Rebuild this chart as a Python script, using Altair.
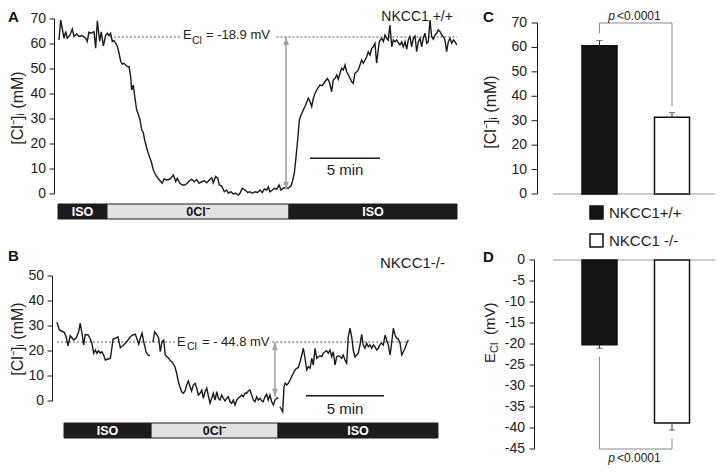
import altair as alt
import pandas as pd

# ---------------- data ----------------
# Panel A: NKCC1 +/+ trace (time in min, [Cl-]i in mM)
A_time = [0.07,0.19,0.43,0.55,0.66,0.86,1.02,1.14,1.34,1.50,1.74,1.98,2.09,2.21,2.38,2.57,2.69,2.81,2.98,3.09,
          3.24,3.41,3.52,3.64,3.76,3.88,4.00,4.12,4.24,4.36,4.48,4.59,4.71,4.84,5.00,5.07,5.19,5.26,5.38,5.48,
          5.62,5.71,5.86,5.98,6.09,6.19,6.34,6.45,6.57,6.66,6.81,6.98,7.14,7.34,7.45,7.57,7.76,7.93,8.09,8.24,
          8.41,8.52,8.71,8.88,9.05,9.24,
          9.31,9.55,9.74,9.91,10.07,10.26,10.45,10.62,10.79,10.98,11.09,11.26,11.41,11.52,11.69,11.88,12.05,12.16,12.36,12.52,
          12.69,12.88,13.00,13.16,13.36,13.55,13.71,13.88,14.07,14.26,14.43,14.59,14.74,14.91,15.02,15.14,15.31,15.45,15.62,15.79,
          15.93,16.09,16.26,16.45,16.64,16.74,16.88,16.98,17.12,17.24,17.36,17.52,17.69,17.88,18.00,18.12,18.24,18.36,18.55,18.71,
          18.88,
          19.07,19.24,19.38,19.55,19.66,19.79,19.91,20.02,20.14,20.26,20.38,20.50,20.62,20.81,20.98,21.09,21.21,21.34,21.45,21.57,
          21.69,21.81,21.93,22.05,22.16,22.29,22.41,22.52,22.64,22.76,22.95,23.12,23.24,23.36,23.48,23.59,23.71,23.84,23.95,24.07,
          24.19,24.31,24.43,24.55,24.66,24.79,24.91,25.02,25.14,25.26,25.38,25.50,25.62,25.74,25.86,25.98,26.09,26.21,26.34,26.45,
          26.57,26.69,26.81,26.93,27.05,27.16,27.29,27.41,27.52,27.64,27.76,27.88,28.00,28.12,28.24,28.36,28.48]
A_cl = [61.6,69.6,62.3,65.0,62.3,63.6,66.0,63.0,64.0,63.0,63.3,62.3,61.0,64.7,64.3,64.9,58.3,69.3,61.0,64.9,
        59.2,63.6,64.3,63.3,64.3,61.0,61.3,60.3,59.0,56.3,53.0,52.0,52.3,51.6,50.9,51.0,47.0,41.6,43.6,39.0,
        33.6,32.3,29.6,25.6,24.6,21.6,18.3,16.3,14.3,13.0,9.6,7.6,6.3,5.0,4.3,6.0,5.6,5.8,6.5,7.6,
        5.0,6.3,4.3,3.6,3.6,4.3,
        4.9,5.9,4.9,5.8,4.3,4.9,5.3,4.5,5.5,6.5,4.5,7.0,6.3,3.6,3.2,0.9,1.6,0.4,0.9,0.0,
        0.3,-0.4,0.3,2.3,1.6,0.6,0.9,0.3,0.9,0.6,1.6,0.6,2.0,1.6,2.9,0.9,1.6,2.3,1.9,3.6,
        1.6,2.3,2.6,2.3,3.2,4.9,8.3,13.6,21.6,29.6,31.6,33.6,35.6,38.3,37.0,35.0,38.3,40.3,42.3,43.6,
        43.3,
        44.9,46.2,44.9,40.9,45.6,46.3,47.6,45.9,48.3,50.3,49.6,51.6,48.9,46.9,44.9,44.3,48.3,48.9,49.6,51.6,
        53.6,52.3,53.6,54.9,56.9,55.6,58.3,58.9,60.3,52.3,61.0,62.3,61.0,63.6,62.3,61.6,67.6,58.9,61.6,60.9,
        61.6,60.5,59.6,60.9,58.9,60.9,57.9,61.6,62.9,58.9,62.3,63.2,56.9,60.9,62.3,58.9,62.3,64.3,60.3,60.9,
        69.6,62.9,61.9,63.6,64.3,65.6,64.9,63.6,62.9,61.6,56.9,60.9,62.3,60.3,61.6,60.9,59.6]

# Panel B: NKCC1 -/- trace, three recorded segments
B_time_1 = [0.00,0.15,0.32,0.47,0.58,0.71,0.85,0.96,1.07,1.22,1.39,1.49,1.60,1.71,1.81,1.99,2.13,2.24,2.35,2.46,
            2.56,2.67,2.78,2.88,2.99,3.10,3.27,3.42,3.53,3.59,3.74,3.91,4.06,4.21,4.38,4.55,4.70,4.85,5.02,5.13,
            5.24,5.34,5.45,5.56,5.71,5.83,5.94]
B_cl_1 = [31.5,28.4,27.9,27.5,25.7,22.1,26.1,25.3,24.4,25.1,27.7,31.1,27.1,22.4,26.6,26.4,24.9,23.1,19.1,20.4,
          19.1,20.1,19.1,19.7,18.4,16.4,16.8,17.0,21.7,24.8,25.1,25.7,21.3,22.1,23.1,24.4,25.7,26.4,26.7,24.8,
          22.7,25.1,27.1,23.7,19.7,18.4,18.1]
B_time_2 = [6.15,6.26,6.41,6.52,6.62,6.73,6.84,6.94,7.05,7.16,7.26,7.37,7.56,7.67,7.78,7.88,7.99,8.10,8.21,8.31,
            8.42,8.53,8.63,8.74,8.85,8.96,9.06,9.17,9.28,9.38,9.49,9.60,9.70,9.81,9.92,10.02,10.13,10.24,10.34,10.45,
            10.56,10.66,10.77,10.88,10.98,11.09,11.20,11.30,11.41,11.52,11.62,11.73,11.84,11.94,12.05,12.16,12.26,12.37,12.48,12.58,
            12.69,12.80,12.90,13.01,13.12,13.22,13.33,13.44,13.54,13.65,13.76,13.87,13.97,14.08,14.19]
B_cl_2 = [23.5,27.7,26.4,25.1,19.7,23.7,24.4,18.4,17.7,17.1,16.1,15.7,13.7,11.1,7.7,5.7,3.7,3.1,4.0,6.4,
          8.0,5.7,4.0,6.4,7.1,5.1,2.4,3.1,4.4,1.1,3.7,5.1,2.1,-0.9,1.1,3.1,0.4,3.7,1.1,0.4,
          2.4,1.1,0.0,1.1,1.7,-0.3,-0.9,0.4,-1.6,0.4,1.1,1.7,2.4,1.7,3.1,3.1,4.0,4.4,2.4,0.4,
          -0.3,1.7,0.4,1.1,0.1,-0.3,1.7,2.7,0.4,2.4,-0.3,-1.6,0.4,1.1,1.3]
B_time_3 = [14.29,14.47,14.55,14.62,14.72,14.83,14.94,15.04,15.15,15.26,15.37,15.47,15.58,15.69,15.79,15.90,16.01,16.11,16.22,16.33,
            16.43,16.54,16.65,16.75,16.86,16.97,17.07,17.18,17.29,17.39,17.50,17.61,17.71,17.82,17.93,18.03,18.14,18.25,18.35,18.46,
            18.57,18.67,18.78,18.89,18.99,19.10,19.21,19.31,19.42,19.53,19.63,19.74,19.85,19.96,20.06,20.17,20.28,20.38,20.49,20.60,
            20.71,20.81,20.92,21.03,21.13,21.24,21.35,21.45,21.56,21.67,21.78,21.88,21.99,22.10,22.20,22.31,22.42,22.52]
B_cl_3 = [-2.3,-4.3,5.7,7.1,6.4,7.1,8.4,9.7,11.1,12.4,13.1,13.4,15.7,18.4,21.1,17.1,12.4,13.7,13.1,17.1,
          14.4,21.1,17.1,17.7,18.1,17.7,19.1,19.7,20.1,19.1,20.4,17.7,19.7,14.4,17.7,18.1,17.7,17.1,18.4,16.4,
          15.1,25.7,29.1,25.7,20.4,17.7,18.4,19.1,22.4,26.7,22.4,21.1,23.1,21.7,22.4,21.1,22.4,21.7,20.4,21.1,
          22.7,23.1,22.4,26.4,24.4,22.4,18.4,23.1,29.1,26.4,25.1,24.8,23.1,18.4,19.7,21.1,23.1,24.4]

protocol_labels = ["ISO", "0Cl⁻", "ISO"]
A_protocol_start = [0.0, 3.5, 16.5]
A_protocol_end = [3.5, 16.5, 28.5]
B_protocol_start = [0.45, 6.03, 14.17]
B_protocol_end = [6.03, 14.17, 24.42]

A_ecl_level = 62.8      # mM at E_Cl line
B_ecl_level = 23.6
A_ecl_text = "= -18.9 mV"
B_ecl_text = "= - 44.8 mV"

groups = ["NKCC1+/+", "NKCC1 -/-"]
cl_mean = [60.7, 31.4]
cl_sem = [2.1, 1.9]
ecl_mean = [-20.2, -38.8]
ecl_sem = [0.8, 1.7]

A_ticks = [0, 10, 20, 30, 40, 50, 60, 70]
B_ticks = [0, 10, 20, 30, 40, 50]
C_ticks = [0, 10, 20, 30, 40, 50, 60, 70]
D_ticks = [0, -5, -10, -15, -20, -25, -30, -35, -40, -45]

# ---------------- helpers ----------------
FONT = "Liberation Sans"
ONE = pd.DataFrame({"k": [0]})
UP = "M0,0L0.5,1.4L-0.5,1.4Z"
DOWN = "M0,0L0.5,-1.4L-0.5,-1.4Z"
INK = "#1a1a1a"


def dtext(x, y, s, xs, ys, **mk):
    props = dict(font=FONT, fontSize=13, color="#222", baseline="alphabetic", align="left")
    props.update(mk)
    return alt.Chart(ONE).mark_text(text=s, **props).encode(
        x=alt.XDatum(x, type="quantitative", scale=xs, axis=None),
        y=alt.YDatum(y, type="quantitative", scale=ys, axis=None))


def ptext(x, y, s, **mk):
    props = dict(font=FONT, fontSize=13, color="#222", baseline="alphabetic", align="left")
    props.update(mk)
    return alt.Chart(ONE).mark_text(text=s, **props).encode(x=alt.value(x), y=alt.value(y))


def yaxis(ticks, ys, axis_x, tick_len, label_x):
    """Left value axis drawn from the tick list through the panel's y scale."""
    df = pd.DataFrame({"v": ticks, "lab": [str(v) for v in ticks]})
    base = alt.Chart(df)
    dom = alt.Chart(ONE).mark_rule(color=INK, strokeWidth=1).encode(
        x=alt.value(axis_x),
        y=alt.YDatum(min(ticks), type="quantitative", scale=ys, axis=None),
        y2=alt.Y2Datum(max(ticks)))
    tk = base.mark_rule(color=INK, strokeWidth=1).encode(
        x=alt.value(axis_x - tick_len), x2=alt.value(axis_x),
        y=alt.Y("v:Q", scale=ys, axis=None))
    lb = base.mark_text(font=FONT, fontSize=14, color="#222", align="right", baseline="middle").encode(
        x=alt.value(label_x), y=alt.Y("v:Q", scale=ys, axis=None), text="lab:N")
    return alt.layer(dom, tk, lb)


def dotted(segs, level, xs, ys):
    df = pd.DataFrame({"t0": [s[0] for s in segs], "t1": [s[1] for s in segs]})
    return alt.Chart(df).mark_rule(color="#444", strokeWidth=0.9, strokeDash=[2, 2]).encode(
        x=alt.X("t0:Q", scale=xs, axis=None), x2="t1:Q",
        y=alt.YDatum(level, type="quantitative", scale=ys, axis=None))


def arrow(t, top, bot, xs, ys):
    base = alt.Chart(pd.DataFrame({"t": [t], "top": [top], "bot": [bot]}))
    xe = alt.X("t:Q", scale=xs, axis=None)
    line = base.mark_rule(color="#a3a3a3", strokeWidth=1.6).encode(
        x=xe, y=alt.Y("top:Q", scale=ys, axis=None), y2="bot:Q")
    up = base.mark_point(shape=UP, filled=True, color="#a3a3a3", size=130, opacity=1).encode(
        x=xe, y=alt.Y("top:Q", scale=ys, axis=None))
    dn = base.mark_point(shape=DOWN, filled=True, color="#a3a3a3", size=130, opacity=1).encode(
        x=xe, y=alt.Y("bot:Q", scale=ys, axis=None))
    return alt.layer(line, up, dn)


def scalebar(t0, t1, level, xs, ys):
    return alt.Chart(pd.DataFrame({"t0": [t0], "t1": [t1]})).mark_rule(color=INK, strokeWidth=1.5).encode(
        x=alt.X("t0:Q", scale=xs, axis=None), x2="t1:Q",
        y=alt.YDatum(level, type="quantitative", scale=ys, axis=None))


def stim(starts, ends, xs, ys):
    df = pd.DataFrame({"label": protocol_labels, "start": starts, "end": ends})
    base = alt.Chart(df).transform_calculate(mid="(datum.start + datum.end) / 2")
    bars = base.mark_rect(stroke=INK, strokeWidth=1).encode(
        x=alt.X("start:Q", scale=xs, axis=None), x2="end:Q",
        y=alt.YDatum(0, type="quantitative", scale=ys, axis=None), y2=alt.Y2Datum(1),
        fill=alt.condition(alt.datum.label == "ISO", alt.value("#1c1c1c"), alt.value("#e2e2e2")))
    txt = base.mark_text(font=FONT, fontWeight="bold", fontSize=12.5, baseline="middle", align="center").encode(
        x=alt.X("mid:Q", scale=xs, axis=None),
        y=alt.YDatum(0.5, type="quantitative", scale=ys, axis=None),
        text="label:N",
        color=alt.condition(alt.datum.label == "ISO", alt.value("#ffffff"), alt.value("#111111")))
    return alt.layer(bars, txt)


CL_TITLE = "[Cl⁻]ᵢ (mM)"

# ---------------- panel A ----------------
xA = alt.Scale(domain=[0, 28.5], range=[50, 449], nice=False, zero=False)
yA = alt.Scale(domain=[0, 70], range=[186, 11], nice=False, zero=False)
ysA = alt.Scale(domain=[0, 1], range=[211, 196], nice=False, zero=False)

dfA = pd.DataFrame({"t": A_time, "cl": A_cl})
A_trace = alt.Chart(dfA).mark_line(color=INK, strokeWidth=1.4).encode(
    x=alt.X("t:Q", scale=xA, axis=None),
    y=alt.Y("cl:Q", scale=yA, axis=None))

A_main = alt.layer(
    yaxis(A_ticks, yA, 46.5, 5, 38),
    dotted([(3.7, 8.7), (15.6, 28.5)], A_ecl_level, xA, yA),
    A_trace,
    arrow(16.29, A_ecl_level, 1.7, xA, yA),
    scalebar(18.0, 23.0, 14.3, xA, yA),
    dtext(20.5, 7.6, "5 min", xA, yA, fontSize=15, align="center"),
    dtext(8.93, 61.9, "E", xA, yA),
    dtext(9.57, 60.0, "Cl", xA, yA, fontSize=10.5),
    dtext(10.57, 61.9, A_ecl_text, xA, yA),
    dtext(28.21, 69.2, "NKCC1 +/+", xA, yA, fontSize=14, align="right"),
)
A = alt.layer(A_main, stim(A_protocol_start, A_protocol_end, xA, ysA)).resolve_scale(y="independent")

# ---------------- panel B ----------------
xB = alt.Scale(domain=[0, 22.5], range=[49, 400], nice=False, zero=False)
yB = alt.Scale(domain=[0, 50], range=[393, 268], nice=False, zero=False)
ysB = alt.Scale(domain=[0, 1], range=[430, 415], nice=False, zero=False)

dfB = pd.DataFrame({
    "t": B_time_1 + B_time_2 + B_time_3,
    "cl": B_cl_1 + B_cl_2 + B_cl_3,
    "seg": ["1"] * len(B_time_1) + ["2"] * len(B_time_2) + ["3"] * len(B_time_3),
})
B_trace = alt.Chart(dfB).mark_line(color=INK, strokeWidth=1.4).encode(
    x=alt.X("t:Q", scale=xB, axis=None),
    y=alt.Y("cl:Q", scale=yB, axis=None),
    detail="seg:N")

B_main = alt.layer(
    yaxis(B_ticks, yB, 44.5, 5, 36),
    dotted([(0.0, 7.56), (13.8, 22.52)], B_ecl_level, xB, yB),
    B_trace,
    arrow(13.97, B_ecl_level, 1.7, xB, yB),
    scalebar(15.96, 20.96, 2.1, xB, yB),
    dtext(18.46, -5.2, "5 min", xB, yB, fontSize=15, align="center"),
    dtext(7.69, 22.0, "E", xB, yB),
    dtext(8.33, 20.3, "Cl", xB, yB, fontSize=10.5),
    dtext(9.29, 22.0, B_ecl_text, xB, yB),
    dtext(24.87, 53.2, "NKCC1-/-", xB, yB, fontSize=15, align="right"),
)
B = alt.layer(B_main, stim(B_protocol_start, B_protocol_end, xB, ysB)).resolve_scale(y="independent")

# ---------------- panels C and D ----------------
xCD = alt.Scale(domain=groups, range=[555.25, 700.25], paddingInner=0.517, paddingOuter=0.2585)
yC = alt.Scale(domain=[0, 70], range=[186, 15], nice=False, zero=False)
yD = alt.Scale(domain=[-45, 0], range=[441, 252], nice=False, zero=False)
fill_scale = alt.Scale(domain=groups, range=["#141414", "#ffffff"])
legend = alt.Legend(orient="none", legendX=581, legendY=197, title=None, symbolType="square",
                    symbolSize=169, symbolStrokeColor="#111", symbolStrokeWidth=1.5,
                    labelFont=FONT, labelFontSize=15, labelColor="#222", rowPadding=9,
                    labelOffset=5, padding=0)
xg = alt.X("group:N", scale=xCD, axis=None, sort=groups)

dfC = pd.DataFrame({"group": groups, "mean": cl_mean, "sem": cl_sem})
baseC = alt.Chart(dfC).transform_calculate(hi="datum.mean + datum.sem")
C_base_line = alt.Chart(ONE).mark_rule(color="#9a9a9a", strokeWidth=1).encode(
    x=alt.value(545), x2=alt.value(707), y=alt.YDatum(0, type="quantitative", scale=yC, axis=None))
C_bars = baseC.mark_bar(stroke="#111", strokeWidth=1.5).encode(
    x=xg,
    y=alt.Y("mean:Q", scale=yC, axis=None),
    y2=alt.Y2Datum(0),
    fill=alt.Fill("group:N", scale=fill_scale, legend=legend))
C_err = baseC.mark_rule(color="#333", strokeWidth=1).encode(
    x=xg, y=alt.Y("mean:Q", scale=yC, axis=None), y2="hi:Q")
C_cap = baseC.mark_tick(color="#333", orient="horizontal", size=6, thickness=1).encode(
    x=xg, y=alt.Y("hi:Q", scale=yC, axis=None))
dfCb = pd.DataFrame({"group": [groups[0], groups[0], groups[1], groups[1]],
                     "v": [65.8, 70, 70, 36], "i": [0, 1, 2, 3]})
C_bracket = alt.Chart(dfCb).mark_line(color="#8a8a8a", strokeWidth=1).encode(
    x=xg, y=alt.Y("v:Q", scale=yC, axis=None), order="i:Q")
C = alt.layer(yaxis(C_ticks, yC, 529.5, 6, 519), C_base_line, C_bars, C_err, C_cap, C_bracket)

dfD = pd.DataFrame({"group": groups, "mean": ecl_mean, "sem": ecl_sem})
baseD = alt.Chart(dfD).transform_calculate(lo="datum.mean - datum.sem")
D_base_line = alt.Chart(ONE).mark_rule(color="#9a9a9a", strokeWidth=1).encode(
    x=alt.value(545), x2=alt.value(707), y=alt.YDatum(0, type="quantitative", scale=yD, axis=None))
D_bars = baseD.mark_bar(stroke="#111", strokeWidth=1.5).encode(
    x=xg,
    y=alt.Y("mean:Q", scale=yD, axis=None),
    y2=alt.Y2Datum(0),
    fill=alt.Fill("group:N", scale=fill_scale, legend=legend))
D_err = baseD.mark_rule(color="#333", strokeWidth=1).encode(
    x=xg, y=alt.Y("mean:Q", scale=yD, axis=None), y2="lo:Q")
D_cap = baseD.mark_tick(color="#333", orient="horizontal", size=6, thickness=1).encode(
    x=xg, y=alt.Y("lo:Q", scale=yD, axis=None))
dfDb = pd.DataFrame({"group": [groups[0], groups[0], groups[1], groups[1]],
                     "v": [-23, -45, -45, -42.5], "i": [0, 1, 2, 3]})
D_bracket = alt.Chart(dfDb).mark_line(color="#8a8a8a", strokeWidth=1).encode(
    x=xg, y=alt.Y("v:Q", scale=yD, axis=None), order="i:Q")
D = alt.layer(yaxis(D_ticks, yD, 526.5, 5, 517), D_base_line, D_bars, D_err, D_cap, D_bracket)

# ---------------- free annotations ----------------
notes = [
    ptext(0, 14, "A", fontSize=15, fontWeight="bold", color="#111"),
    ptext(0, 253, "B", fontSize=15, fontWeight="bold", color="#111"),
    ptext(475, 14, "C", fontSize=15, fontWeight="bold", color="#111"),
    ptext(475, 254, "D", fontSize=15, fontWeight="bold", color="#111"),
    # axis titles
    ptext(15, 100, CL_TITLE, fontSize=16, angle=270, align="center"),
    ptext(15, 331, CL_TITLE, fontSize=16, angle=270, align="center"),
    ptext(488, 104, CL_TITLE, fontSize=16, angle=270, align="center"),
    ptext(487, 355, "E", fontSize=15, angle=270),
    ptext(490, 345, "Cl", fontSize=11, angle=270),
    ptext(487, 327, "(mV)", fontSize=15, angle=270),
    # significance labels
    ptext(607, 12, "p", fontSize=12, fontStyle="italic", align="right"),
    ptext(609, 12, "<0.0001", fontSize=12),
    ptext(607, 454, "p", fontSize=12, fontStyle="italic", align="right"),
    ptext(609, 454, "<0.0001", fontSize=12),
]

chart = alt.layer(A, B, C, D, *notes).resolve_scale(
    x="independent", y="independent"
).properties(
    width=707, height=457, padding=0, background="white",
    autosize=alt.AutoSizeParams(type="none"),
).configure_view(stroke=None)

chart.save("out.html", embed_options={"renderer": "svg", "actions": False})
